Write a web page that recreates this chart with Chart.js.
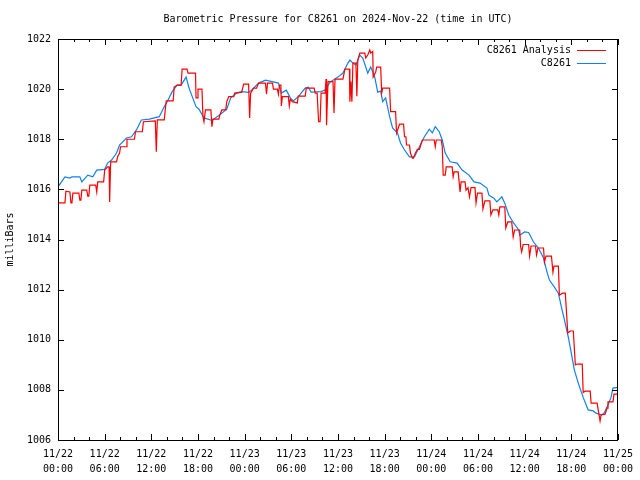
<!DOCTYPE html>
<html>
<head>
<meta charset="utf-8">
<script src="https://cdn.jsdelivr.net/npm/chart.js@4.4.1/dist/chart.umd.min.js"></script>
<style>
  html, body { margin: 0; padding: 0; background: #fff; }
  #wrap { width: 640px; height: 480px; position: relative; }
</style>
</head>
<body>
<div id="wrap"><canvas id="c" width="640" height="480"></canvas></div>
<script>
// ---- data (hours since 2024-11-22 00:00 UTC, millibars) ----
const chartTitle = 'Barometric Pressure for C8261 on 2024-Nov-22 (time in UTC)';
const yAxisTitle = 'milliBars';
const seriesNames = ['C8261 Analysis', 'C8261'];
const seriesColors = ['#ff0000', 'rgb(16,128,240)'];
const tickDates = ['11/22','11/22','11/22','11/22','11/23','11/23','11/23','11/23','11/24','11/24','11/24','11/24','11/25'];
const tickTimes = ['00:00','06:00','12:00','18:00','00:00','06:00','12:00','18:00','00:00','06:00','12:00','18:00','00:00'];
const yTicks = [1006, 1008, 1010, 1012, 1014, 1016, 1018, 1020, 1022];

const analysisPoints = [
[0,1015.46],[0.89,1015.46],[1.02,1015.93],[1.53,1015.9],[1.66,1015.46],[1.79,1015.46],[1.91,1015.85],[2.68,1015.85],[2.81,1015.57],[2.94,1015.57],[3.06,1015.97],[3.70,1015.97],[3.83,1015.73],[3.96,1015.73],[4.09,1016.17],[4.85,1016.17],[4.98,1015.9],[5.11,1016.3],[5.87,1016.3],[6.0,1016.77],[6.38,1016.9],[6.57,1016.9],[6.64,1015.5],[6.77,1017.1],[7.53,1017.1],[7.66,1017.3],[7.92,1017.45],[8.04,1017.7],[8.81,1017.7],[8.87,1018.0],[9.83,1018.0],[9.96,1018.3],[10.85,1018.3],[10.98,1018.7],[12.51,1018.73],[12.64,1017.5],[12.77,1018.77],[13.66,1018.77],[13.79,1019.17],[13.92,1019.53],[14.81,1019.53],[14.94,1020.08],[15.32,1020.16],[15.83,1020.16],[15.96,1020.8],[16.60,1020.8],[16.72,1020.64],[17.68,1020.64],[17.75,1019.65],[17.94,1019.65],[18.0,1020.0],[18.51,1020.0],[18.64,1018.9],[18.77,1018.7],[18.96,1019.17],[19.66,1019.17],[19.79,1018.5],[19.92,1018.8],[20.68,1018.8],[20.81,1018.97],[21.07,1019.17],[21.57,1019.17],[21.70,1019.5],[21.96,1019.7],[22.60,1019.7],[22.72,1019.84],[23.62,1019.88],[23.87,1020.2],[24.51,1020.2],[24.64,1018.85],[24.77,1019.84],[25.15,1020.04],[25.53,1020.04],[25.79,1020.24],[26.68,1020.24],[26.81,1019.8],[26.94,1020.24],[27.58,1020.24],[27.70,1020.0],[28.21,1020.0],[28.34,1019.8],[28.47,1020.16],[28.66,1020.16],[28.72,1019.33],[28.85,1019.7],[29.62,1019.7],[29.74,1019.33],[29.87,1019.6],[30.13,1019.5],[30.77,1019.45],[30.89,1019.72],[31.79,1019.72],[31.92,1020.04],[32.94,1020.04],[33.07,1019.84],[33.32,1019.84],[33.51,1018.7],[33.70,1018.7],[33.83,1019.84],[34.34,1019.84],[34.47,1020.4],[34.53,1018.56],[34.72,1020.3],[35.36,1020.3],[35.49,1019.05],[35.62,1020.4],[36.64,1020.4],[36.89,1020.8],[37.47,1020.8],[37.53,1019.5],[37.66,1020.3],[37.79,1019.5],[37.92,1021.04],[38.30,1021.04],[38.43,1019.72],[38.55,1021.16],[38.81,1021.44],[39.45,1021.44],[39.57,1021.24],[39.83,1021.36],[40.09,1021.56],[40.21,1021.44],[40.47,1021.5],[40.53,1020.48],[40.85,1020.68],[40.98,1020.88],[41.49,1020.88],[41.62,1019.84],[41.75,1020.04],[42.64,1020.04],[42.77,1019.1],[43.41,1019.1],[43.53,1018.25],[43.92,1018.6],[44.43,1018.6],[44.56,1018.1],[44.74,1018.1],[44.81,1017.77],[45.19,1017.77],[45.32,1017.45],[45.57,1017.25],[45.70,1017.25],[45.96,1017.45],[46.21,1017.6],[46.47,1017.6],[46.85,1017.97],[48.38,1017.97],[48.51,1017.7],[48.64,1017.97],[49.28,1017.97],[49.41,1017.7],[49.53,1016.57],[49.79,1016.57],[49.92,1016.9],[50.68,1016.9],[50.81,1016.5],[50.94,1016.7],[51.45,1016.7],[51.58,1016.3],[51.70,1015.9],[51.83,1016.3],[52.34,1016.3],[52.47,1015.97],[52.72,1016.07],[52.91,1015.7],[53.11,1016.07],[53.62,1016.07],[53.75,1015.46],[53.94,1015.85],[54.51,1015.85],[54.64,1015.22],[54.89,1015.54],[55.53,1015.54],[55.66,1014.98],[55.92,1015.18],[56.55,1015.18],[56.68,1014.98],[56.81,1015.3],[57.45,1015.3],[57.58,1014.46],[57.83,1014.7],[58.34,1014.7],[58.53,1014.1],[58.72,1014.38],[59.37,1014.38],[59.49,1013.7],[59.62,1013.5],[59.81,1013.8],[60.51,1013.8],[60.64,1013.34],[60.83,1013.74],[61.40,1013.74],[61.53,1013.38],[61.72,1013.66],[62.43,1013.66],[62.55,1013.1],[62.74,1013.34],[63.45,1013.34],[63.64,1012.7],[63.77,1012.94],[64.34,1012.94],[64.47,1011.78],[64.85,1011.86],[65.23,1011.86],[65.55,1010.27],[65.87,1010.35],[66.26,1010.35],[66.52,1009.0],[66.77,1009.03],[67.41,1009.03],[67.53,1007.9],[67.79,1007.95],[68.43,1007.95],[68.55,1007.47],[69.32,1007.47],[69.57,1007.0],[69.70,1006.76],[69.83,1007.0],[70.34,1007.03],[70.60,1007.27],[70.72,1007.52],[71.36,1007.52],[71.49,1007.83],[72.0,1007.83]
];

const stationPoints = [
[0,1016.1],[0.89,1016.5],[1.53,1016.45],[1.79,1016.5],[2.81,1016.5],[3.06,1016.3],[3.83,1016.57],[4.47,1016.5],[4.98,1016.77],[6.0,1016.8],[6.38,1017.05],[6.89,1017.17],[7.53,1017.45],[7.92,1017.77],[8.81,1018.05],[9.45,1018.1],[10.09,1018.37],[10.72,1018.77],[11.74,1018.8],[13.02,1018.9],[13.66,1019.3],[14.04,1019.5],[14.68,1019.9],[15.32,1020.16],[15.83,1020.16],[16.47,1020.48],[16.85,1020.04],[17.75,1019.3],[18.13,1019.2],[18.77,1018.85],[19.79,1018.75],[20.68,1018.95],[21.70,1019.2],[22.21,1019.65],[22.98,1019.84],[23.62,1019.9],[24.51,1019.87],[24.89,1019.96],[25.79,1020.24],[26.68,1020.36],[28.34,1020.24],[28.72,1019.84],[29.36,1019.96],[29.87,1019.65],[30.26,1019.53],[30.89,1019.7],[31.79,1020.04],[32.17,1020.08],[32.55,1019.88],[33.83,1019.9],[34.34,1019.96],[34.98,1020.28],[36.0,1020.48],[36.64,1020.64],[37.28,1021.04],[37.53,1021.16],[37.92,1021.04],[38.30,1020.96],[38.81,1021.36],[39.19,1021.24],[39.83,1020.64],[40.21,1020.88],[40.73,1020.48],[41.11,1019.88],[41.49,1019.92],[41.75,1019.5],[42.13,1019.65],[42.64,1018.9],[43.02,1018.45],[43.66,1018.25],[44.04,1017.85],[44.56,1017.57],[45.19,1017.3],[45.83,1017.3],[46.47,1017.7],[47.11,1018.1],[47.75,1018.4],[48.13,1018.25],[48.51,1018.5],[49.02,1018.3],[49.41,1017.97],[49.79,1017.45],[50.43,1017.1],[51.32,1017.05],[51.96,1016.77],[52.85,1016.57],[53.49,1016.3],[54.26,1016.25],[55.15,1016.05],[55.41,1015.77],[56.04,1015.65],[56.43,1015.5],[57.07,1015.7],[57.45,1015.45],[57.96,1014.98],[58.60,1014.65],[59.24,1014.38],[59.37,1014.17],[60.0,1014.3],[60.51,1014.28],[61.15,1013.9],[61.79,1013.65],[62.43,1013.26],[62.81,1012.78],[63.19,1012.38],[63.83,1012.1],[64.34,1011.86],[64.73,1011.3],[65.11,1010.8],[65.62,1010.1],[66.0,1009.47],[66.39,1008.8],[66.90,1008.27],[67.53,1007.7],[68.17,1007.2],[68.81,1007.16],[69.19,1007.07],[69.83,1007.0],[70.21,1007.07],[70.72,1007.4],[71.11,1007.7],[71.36,1008.07],[72.0,1008.1]
];

// ---- chart ----
const FONT = 'DejaVu Sans Mono';
const toXY = pts => pts.map(p => ({ x: p[0], y: p[1] }));

const decor = {
  id: 'decor',
  afterDraw(chart) {
    const { ctx, chartArea: a, scales } = chart;
    const xs = scales.x, ys = scales.y;
    ctx.save();
    ctx.strokeStyle = '#000';
    ctx.lineWidth = 1;
    ctx.beginPath();
    // frame
    ctx.rect(Math.round(a.left) + 0.5, Math.round(a.top) + 0.5, Math.round(a.right - a.left) - 1, Math.round(a.bottom - a.top));
    // y ticks (both sides)
    yTicks.forEach(v => {
      const py = Math.round(ys.getPixelForValue(v)) + 0.5;
      ctx.moveTo(a.left, py); ctx.lineTo(a.left + 6, py);
      ctx.moveTo(a.right, py); ctx.lineTo(a.right - 6, py);
    });
    // x ticks: major every 6 h, minor every 2 h (both sides)
    for (let h = 0; h <= 72; h += 2) {
      const px = Math.round(xs.getPixelForValue(h)) + 0.5;
      const len = (h % 6 === 0) ? 6 : 3;
      ctx.moveTo(px, a.bottom); ctx.lineTo(px, a.bottom - len);
      ctx.moveTo(px, a.top); ctx.lineTo(px, a.top + len);
    }
    ctx.stroke();

    ctx.fillStyle = '#000';
    ctx.font = '10px "' + FONT + '"';
    // title
    ctx.textAlign = 'center';
    ctx.textBaseline = 'middle';
    ctx.fillText(chartTitle, (a.left + a.right) / 2, 19);
    // y axis title
    ctx.save();
    ctx.translate(10, (a.top + a.bottom) / 2);
    ctx.rotate(-Math.PI / 2);
    ctx.fillText(yAxisTitle, 0, 0);
    ctx.restore();
    // legend
    ctx.textAlign = 'right';
    seriesNames.forEach((name, i) => {
      const ly = a.top + 11 + i * 13;
      ctx.fillStyle = '#000';
      ctx.fillText(name, a.right - 47, ly);
      ctx.strokeStyle = seriesColors[i];
      ctx.beginPath();
      ctx.moveTo(a.right - 41, Math.round(ly) + 0.5);
      ctx.lineTo(a.right - 12, Math.round(ly) + 0.5);
      ctx.stroke();
    });
    ctx.restore();
  }
};

new Chart(document.getElementById('c'), {
  type: 'line',
  data: {
    datasets: [
      { label: seriesNames[0], data: toXY(analysisPoints), borderColor: seriesColors[0], borderWidth: 1.2, pointRadius: 0, tension: 0, fill: false },
      { label: seriesNames[1], data: toXY(stationPoints), borderColor: seriesColors[1], borderWidth: 1.2, pointRadius: 0, tension: 0, fill: false }
    ]
  },
  options: {
    responsive: false,
    animation: false,
    devicePixelRatio: 1,
    layout: { padding: { top: 39, right: 18, left: 0, bottom: 0 } },
    plugins: { legend: { display: false }, title: { display: false }, tooltip: { enabled: false } },
    scales: {
      x: {
        type: 'linear', min: 0, max: 72,
        grid: { display: false, drawTicks: false },
        border: { display: false },
        ticks: {
          stepSize: 6, autoSkip: false, maxRotation: 0, padding: 7, color: '#000',
          font: { family: FONT, size: 10, lineHeight: 1.5 },
          callback: v => { const i = Math.round(v / 6); return [tickDates[i], tickTimes[i]]; }
        },
        afterFit: s => { s.height = 40; }
      },
      y: {
        type: 'linear', min: 1006, max: 1022,
        grid: { display: false, drawTicks: false },
        border: { display: false },
        ticks: {
          stepSize: 2, padding: 7, color: '#000',
          font: { family: FONT, size: 10 },
          callback: v => String(v)
        },
        afterFit: s => { s.width = 58; }
      }
    }
  },
  plugins: [decor]
});
</script>
</body>
</html>
